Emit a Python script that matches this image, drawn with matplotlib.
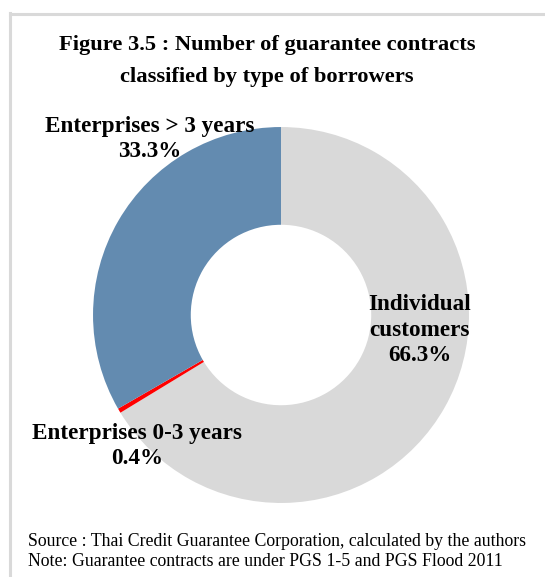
import matplotlib.pyplot as plt
from matplotlib.lines import Line2D

plt.rcParams["font.family"] = ["Liberation Serif", "DejaVu Serif"]

categories = ["Individual customers", "Enterprises 0-3 years", "Enterprises > 3 years"]
shares = [66.3, 0.4, 33.3]
label_texts = ["Individual\ncustomers\n66.3%", "Enterprises 0-3 years\n0.4%", "Enterprises > 3 years\n33.3%"]
colors = ["#d9d9d9", "#ff0000", "#638bb0"]


def main():
    fig = plt.figure(figsize=(5.45, 5.77), dpi=100)

    # grey frame, cut off at right and bottom like the source
    fig.add_artist(Line2D([10 / 545, 10 / 545], [0, 1 - 13 / 577], color="#d9d9d9", lw=2.2))
    fig.add_artist(Line2D([10 / 545, 1], [1 - 14 / 577, 1 - 14 / 577], color="#d9d9d9", lw=2.2))

    fig.text(267 / 545, 1 - 45 / 577, "Figure 3.5 : Number of guarantee contracts",
             ha="center", va="center", fontsize=16.2, fontweight="bold")
    fig.text(267 / 545, 1 - 77 / 577, "classified by type of borrowers",
             ha="center", va="center", fontsize=16.2, fontweight="bold")

    size = 400
    cx, cy = 281, 262
    ax = fig.add_axes([(cx - size / 2) / 545, (cy - size / 2) / 577, size / 545, size / 577])
    ax.pie(
        shares,
        colors=colors,
        startangle=90,
        counterclock=False,
        radius=1,
        wedgeprops=dict(width=0.52, edgecolor="none"),
    )
    ax.set_xlim(-1.064, 1.064)
    ax.set_ylim(-1.064, 1.064)
    ax.set_aspect("equal")
    ax.axis("off")

    # label positions in pixels (x, y from top)
    label_pos = [(420, 330), (137, 446), (150, 139)]
    for text, (px, py) in zip(label_texts, label_pos):
        fig.text(px / 545, 1 - py / 577, text, ha="center", va="center",
                 fontsize=16.7, fontweight="bold", linespacing=1.3)

    fig.text(28 / 545, 1 - 542 / 577,
             "Source : Thai Credit Guarantee Corporation, calculated by the authors",
             ha="left", va="center", fontsize=12.8)
    fig.text(28 / 545, 1 - 561 / 577,
             "Note: Guarantee contracts are under PGS 1-5 and PGS Flood 2011",
             ha="left", va="center", fontsize=12.8)

    fig.savefig("out.png", dpi=100)


if __name__ == "__main__":
    main()
